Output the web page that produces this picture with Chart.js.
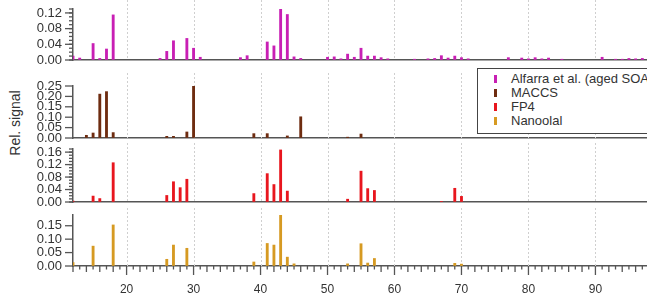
<!DOCTYPE html>
<html>
<head>
<meta charset="utf-8">
<script src="https://cdn.jsdelivr.net/npm/chart.js@4.4.1/dist/chart.umd.min.js"></script>
<style>
  body { margin: 0; width: 647px; height: 298px; overflow: hidden; background: #fff; position: relative;
         font-family: 'Liberation Sans', Arial, sans-serif; }
  .panel { position: absolute; left: 0; width: 647px; }
  #ylabel { position: absolute; left: 15px; top: 123px; transform: translate(-50%, -50%) rotate(-90deg);
            font-size: 14px; color: #333; white-space: nowrap; }
  #legend { position: absolute; left: 477px; top: 68px; width: 200px; height: 61px; background: #fff;
            border: 1.5px solid #444; z-index: 5; padding-top: 3px; box-sizing: content-box; }
  #legend div { position: relative; height: 14px; line-height: 14px; font-size: 13px; color: #333; padding-left: 33px; }
  #legend span { position: absolute; left: 16px; top: 3px; width: 3px; height: 8px; }
</style>
</head>
<body>
<div id="ylabel">Rel. signal</div>
<div id="legend"></div>
<div class="panel" style="top:0px;height:73px"><canvas id="c0"></canvas></div>
<div class="panel" style="top:73px;height:70px"><canvas id="c1"></canvas></div>
<div class="panel" style="top:143px;height:65px"><canvas id="c2"></canvas></div>
<div class="panel" style="top:208px;height:90px"><canvas id="c3"></canvas></div>
<script>
// series names / colours
const seriesNames = ['Alfarra et al. (aged SOA)', 'MACCS', 'FP4', 'Nanoolal'];
const seriesColors = ['#c81fb4', '#6e2c10', '#e8161e', '#d69a22'];

// m/z and relative signal for each spectrum
const alfarraMz  = [12, 13, 15, 16, 17, 18, 25, 26, 27, 29, 30, 31, 37, 38, 41, 42, 43, 44, 45, 46,
                    50, 51, 52, 53, 54, 55, 56, 57, 58, 59, 63, 65, 66, 67, 68, 69, 70, 71,
                    77, 79, 80, 81, 82, 83, 85, 91, 93, 94, 95, 96, 97];
const alfarraSig = [0.010, 0.005, 0.042, 0.004, 0.028, 0.115, 0.004, 0.022, 0.049, 0.055, 0.030, 0.007,
                    0.006, 0.011, 0.046, 0.036, 0.132, 0.116, 0.008, 0.004,
                    0.007, 0.008, 0.003, 0.015, 0.007, 0.030, 0.010, 0.010, 0.006, 0.003,
                    0.002, 0.003, 0.004, 0.011, 0.005, 0.010, 0.006, 0.003,
                    0.006, 0.005, 0.003, 0.006, 0.003, 0.005, 0.002, 0.007, 0.002, 0.002, 0.004, 0.003, 0.004];

const maccsMz  = [14, 15, 16, 17, 18, 26, 27, 29, 30, 39, 41, 44, 46, 53, 55];
const maccsSig = [0.013, 0.024, 0.211, 0.223, 0.026, 0.008, 0.008, 0.029, 0.250, 0.021, 0.021, 0.010, 0.102, 0.004, 0.019];

const fp4Mz  = [12, 15, 16, 18, 26, 27, 28, 29, 39, 41, 42, 43, 44, 53, 55, 56, 57, 67, 69, 70];
const fp4Sig = [0.003, 0.019, 0.011, 0.126, 0.021, 0.065, 0.046, 0.073, 0.027, 0.091, 0.056, 0.167, 0.035,
                0.009, 0.099, 0.043, 0.037, 0.002, 0.044, 0.018];

const nanoMz  = [12, 15, 18, 26, 27, 29, 39, 41, 42, 43, 44, 45, 53, 55, 56, 57, 69, 70];
const nanoSig = [0.013, 0.074, 0.153, 0.025, 0.078, 0.066, 0.015, 0.084, 0.078, 0.194, 0.033, 0.008,
                 0.008, 0.083, 0.011, 0.028, 0.010, 0.007];

// axes
const xMin = 12, xMax = 97.7;
const xTicks = [20, 30, 40, 50, 60, 70, 80, 90];
const yTicks = [
  [0, 0.04, 0.08, 0.12],
  [0, 0.05, 0.10, 0.15, 0.20, 0.25],
  [0, 0.04, 0.08, 0.12, 0.16],
  [0, 0.05, 0.10, 0.15]
];
const yMaxes = [0.13, 0.25, 0.17, 0.19];
const yMinor = [0.01, 0, 0.01, 0];

const mzs = [alfarraMz, maccsMz, fp4Mz, nanoMz];
const sigs = [alfarraSig, maccsSig, fp4Sig, nanoSig];

const axisColor = '#555';
const pads = [[9, 13], [13, 5], [6, 6], [7, 0]];

// legend
const legend = document.getElementById('legend');
seriesNames.forEach((n, i) => {
  const d = document.createElement('div');
  d.innerHTML = '<span style="background:' + seriesColors[i] + '"></span>' + n;
  legend.appendChild(d);
});

// dashed vertical grid lines through the whole panel + tick marks
const marks = {
  id: 'marks',
  beforeDatasetsDraw(chart) {
    const ctx = chart.ctx, x = chart.scales.x, a = chart.chartArea;
    ctx.save();
    ctx.strokeStyle = '#cfcfcf';
    ctx.lineWidth = 1;
    ctx.setLineDash([2, 2]);
    xTicks.forEach(v => {
      const px = Math.round(x.getPixelForValue(v)) + 0.5;
      ctx.beginPath();
      ctx.moveTo(px, 0);
      ctx.lineTo(px, a.bottom);
      ctx.stroke();
    });
    ctx.restore();
  },
  afterDraw(chart, args, opts) {
    const ctx = chart.ctx, x = chart.scales.x, y = chart.scales.y, a = chart.chartArea;
    ctx.save();
    ctx.strokeStyle = axisColor;
    ctx.lineWidth = 1.3;
    const tickList = [];
    yTicks[opts.idx].forEach(v => tickList.push([v, 8]));
    if (opts.minor) {
      const n = Math.round(y.max / opts.minor);
      for (let i = 0; i <= n; i++) tickList.push([i * opts.minor, 4]);
    }
    tickList.forEach(([v, len]) => {
      const py = y.getPixelForValue(v);
      ctx.beginPath();
      ctx.moveTo(a.left, py);
      ctx.lineTo(a.left - len, py);
      ctx.stroke();
    });
    if (opts.bottom) {
      for (let m = Math.ceil(xMin); m <= xMax; m++) {
        const len = m % 10 === 0 ? 9 : (m % 2 === 0 ? 6 : 3.5);
        const px = x.getPixelForValue(m);
        ctx.beginPath();
        ctx.moveTo(px, a.bottom);
        ctx.lineTo(px, a.bottom + len);
        ctx.stroke();
      }
    }
    ctx.restore();
  }
};

const tickFont = { family: "'Liberation Sans', Arial, sans-serif", size: 13 };

for (let i = 0; i < 4; i++) {
  const bottom = i === 3;
  new Chart(document.getElementById('c' + i), {
    type: 'bar',
    data: {
      datasets: [{
        label: seriesNames[i],
        data: mzs[i].map((m, k) => ({ x: m, y: sigs[i][k] })),
        backgroundColor: seriesColors[i],
        barThickness: 2.2,
        grouped: false
      }]
    },
    options: {
      animation: false,
      responsive: true,
      maintainAspectRatio: false,
      layout: { padding: { top: pads[i][0], bottom: pads[i][1], left: 0, right: 0 } },
      plugins: {
        legend: { display: false },
        tooltip: { enabled: false },
        marks: { idx: i, minor: yMinor[i], bottom: bottom }
      },
      scales: {
        x: {
          type: 'linear',
          min: xMin,
          max: xMax,
          offset: false,
          grid: { display: true, offset: false, drawOnChartArea: false, drawTicks: false },
          border: { display: true, color: axisColor, width: 1.5 },
          ticks: { display: bottom, padding: 16, color: '#333', font: { family: tickFont.family, size: 12 } },
          afterBuildTicks: s => { s.ticks = xTicks.map(v => ({ value: v })); },
          afterFit: s => {
            s.height = bottom ? 32 : 0;
            s.paddingLeft = 0; s.paddingRight = 0;
          }
        },
        y: {
          min: 0,
          max: yMaxes[i],
          grid: { display: true, drawOnChartArea: false, drawTicks: false },
          border: { display: true, color: axisColor, width: 1.5 },
          ticks: { autoSkip: false, padding: 11, color: '#333', font: tickFont,
                   callback: v => v.toFixed(2) },
          afterBuildTicks: s => { s.ticks = yTicks[i].map(v => ({ value: v })); },
          afterFit: s => {
            s.width = 73;
            s.paddingTop = 0; s.paddingBottom = 0;
          }
        }
      }
    },
    plugins: [marks]
  });
}
</script>
</body>
</html>
